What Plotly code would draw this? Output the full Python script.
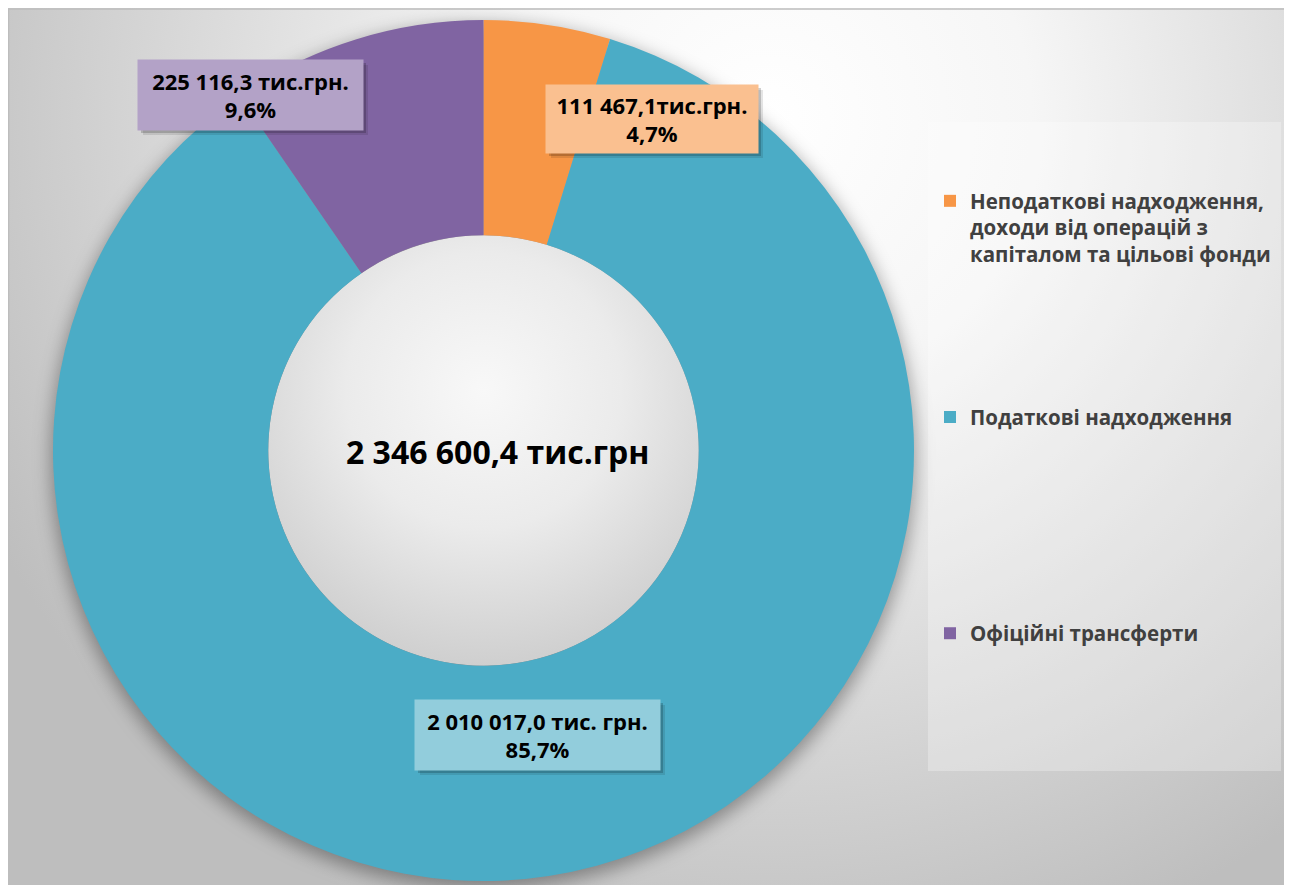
import base64
import plotly.graph_objects as go

# ---- data ----
categories = [
    "Неподаткові надходження,<br>доходи від операцій з<br>капіталом та цільові фонди",
    "Податкові надходження",
    "Офіційні трансферти",
]
values = [111467.1, 2010017.0, 225116.3]
value_labels = ["111 467,1тис.грн.", "2 010 017,0 тис. грн.", "225 116,3 тис.грн."]
percent_labels = ["4,7%", "85,7%", "9,6%"]
total_label = "2 346 600,4 тис.грн"
colors = ["#F79646", "#4BACC6", "#8064A2"]
label_bg = ["#FAC090", "#92CDDC", "#B3A2C7"]

# ---- layout geometry ----
W, H = 1282, 877
cx, cy, R = 475.5, 442.5, 430.5
hole = 0.5
FONT = "Open Sans"

def px(x):
    return x / W

def py(y):
    return 1 - y / H

# background svg (gradients + donut shadow)
svg = f'''<svg xmlns="http://www.w3.org/2000/svg" width="{W}" height="{H}" viewBox="0 0 {W} {H}">
<defs>
<radialGradient id="bg" gradientUnits="userSpaceOnUse" cx="760" cy="110" r="880">
<stop offset="0" stop-color="#FFFFFF"/>
<stop offset="0.3" stop-color="#F6F6F6"/>
<stop offset="1" stop-color="#BEBEBE"/>
</radialGradient>
<radialGradient id="hole" gradientUnits="userSpaceOnUse" cx="{cx}" cy="{cy-60}" r="{R*hole+60}">
<stop offset="0" stop-color="#F8F8F8"/>
<stop offset="0.5" stop-color="#EBEBEB"/>
<stop offset="1" stop-color="#CFCFCF"/>
</radialGradient>
<filter id="blur" x="-20%" y="-20%" width="140%" height="140%"><feGaussianBlur stdDeviation="9"/></filter>
</defs>
<rect x="0" y="0" width="{W}" height="{H}" fill="url(#bg)"/>
<rect x="0.5" y="1" width="{W-1}" height="{H}" fill="none" stroke="#BDBDBD" stroke-width="1.5"/>
<circle cx="{cx}" cy="{cy+6}" r="{R+2}" fill="rgba(0,0,0,0.35)" filter="url(#blur)"/>
<circle cx="{cx}" cy="{cy}" r="{R*hole}" fill="url(#hole)"/>
</svg>'''
svg_uri = "data:image/svg+xml;base64," + base64.b64encode(svg.encode("utf-8")).decode()

# legend labels padded with blank lines to mimic the wide spacing
pads = [5, 7, 0]
legend_labels = [f"<b>{c}</b>" + "<br>\u00a0" * p for c, p in zip(categories, pads)]

fig = go.Figure()
fig.add_trace(go.Pie(
    labels=legend_labels,
    values=values,
    hole=hole,
    sort=False,
    direction="clockwise",
    rotation=0,
    marker=dict(colors=colors, line=dict(width=0)),
    textinfo="none",
    hoverinfo="none",
    domain=dict(x=[px(cx - R), px(cx + R)], y=[py(cy + R), py(cy - R)]),
))

# label boxes (centre px, size px)
boxes = [
    (644, 111, 212, 68),
    (529.5, 727, 245, 70),
    (242.5, 87, 225, 70),
]
shapes = []
annotations = []
for (bx, by, bw, bh), vl, pl, bg in zip(boxes, value_labels, percent_labels, label_bg):
    for off, a in [(5, 0.10), (3, 0.18)]:
        shapes.append(dict(type="rect", xref="paper", yref="paper", layer="above",
                           x0=px(bx - bw / 2 + off), x1=px(bx + bw / 2 + off),
                           y0=py(by + bh / 2 + off), y1=py(by - bh / 2 + off),
                           fillcolor=f"rgba(0,0,0,{a})", line=dict(width=0)))
    annotations.append(dict(
        xref="paper", yref="paper", x=px(bx), y=py(by), xanchor="center", yanchor="middle",
        text=f"<b>{vl}</b><br><b>{pl}</b>", showarrow=False,
        width=bw, height=bh, borderpad=0, bgcolor=bg, align="center", valign="middle",
        font=dict(family=FONT, size=22, color="#000000"),
    ))

annotations.append(dict(
    xref="paper", yref="paper", x=px(490), y=py(443), xanchor="center", yanchor="middle",
    text=f"<b>{total_label}</b>", showarrow=False,
    font=dict(family=FONT, size=32, color="#000000"),
))

# legend panel
shapes.append(dict(type="rect", xref="paper", yref="paper", layer="below",
                   x0=px(920), x1=px(1273), y0=py(763), y1=py(114),
                   fillcolor="rgba(255,255,255,0.28)", line=dict(width=0)))

fig.update_layout(
    width=W, height=H,
    margin=dict(l=0, r=0, t=0, b=0),
    paper_bgcolor="#FFFFFF",
    plot_bgcolor="rgba(0,0,0,0)",
    images=[dict(source=svg_uri, xref="paper", yref="paper", x=0, y=1, sizex=1, sizey=1,
                 xanchor="left", yanchor="top", sizing="stretch", layer="below")],
    shapes=shapes,
    annotations=annotations,
    showlegend=True,
    legend=dict(
        x=px(922), y=py(173), xanchor="left", yanchor="top",
        bgcolor="rgba(0,0,0,0)", borderwidth=0, valign="top",
        font=dict(family=FONT, size=20.5, color="#404040"),
        traceorder="normal",
    ),
)

fig.write_html("out.html")
